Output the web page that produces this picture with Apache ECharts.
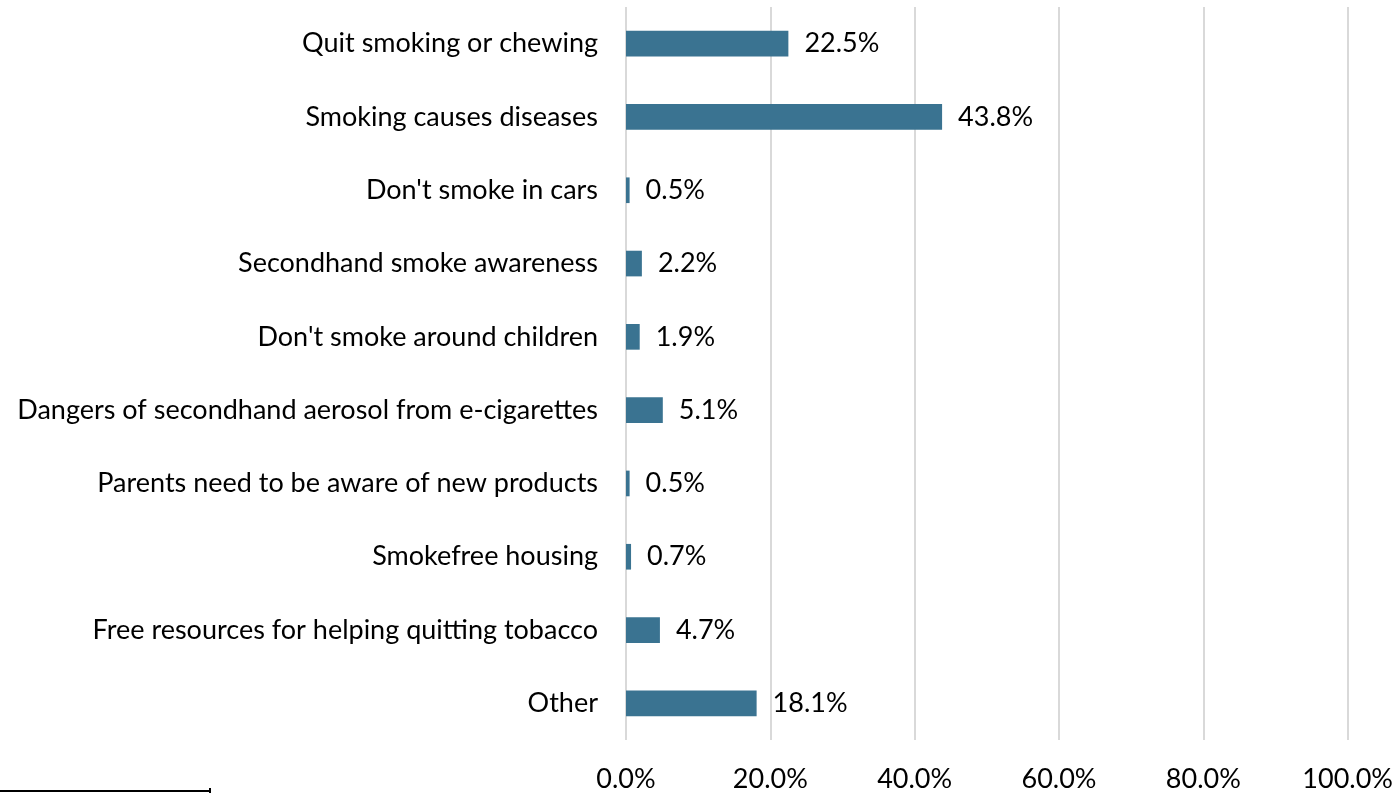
<!DOCTYPE html>
<html>
<head>
<meta charset="utf-8">
<script src="https://cdn.jsdelivr.net/npm/echarts@6/dist/echarts.min.js"></script>
<style>html,body{margin:0;padding:0;background:#fff;}#c{width:1396px;height:793px;}</style>
</head>
<body>
<div id="c"></div>
<script>
const categories = [
  "Quit smoking or chewing",
  "Smoking causes diseases",
  "Don't smoke in cars",
  "Secondhand smoke awareness",
  "Don't smoke around children",
  "Dangers of secondhand aerosol from e-cigarettes",
  "Parents need to be aware of new products",
  "Smokefree housing",
  "Free resources for helping quitting tobacco",
  "Other"
];
const values = [22.5, 43.8, 0.5, 2.2, 1.9, 5.1, 0.5, 0.7, 4.7, 18.1];
const xTicks = [0, 20, 40, 60, 80, 100];

const chart = echarts.init(document.getElementById('c'), null, {renderer: 'canvas'});
const font = 'Lato, "Open Sans", sans-serif';
chart.setOption({
  animation: false,
  textStyle: {fontFamily: font},
  grid: {left: 626, right: 48, top: 7, bottom: 50, containLabel: false},
  xAxis: {
    type: 'value', min: xTicks[0], max: xTicks[xTicks.length - 1], interval: 20,
    axisLine: {show: false}, axisTick: {show: false},
    splitLine: {show: true, lineStyle: {color: '#D9D9D9', width: 2}},
    axisLabel: {formatter: v => v.toFixed(1) + '%', fontSize: 27, color: '#000', margin: 26, fontFamily: font}
  },
  yAxis: {
    type: 'category', data: categories, inverse: true,
    axisLine: {show: false}, axisTick: {show: false},
    axisLabel: {fontSize: 27, color: '#000', margin: 28, fontFamily: font}
  },
  series: [{
    type: 'bar', data: values, barWidth: '35%',
    itemStyle: {color: '#3A7391'},
    label: {show: true, position: 'right', distance: 16, fontSize: 27, color: '#000',
      fontFamily: font, formatter: p => p.value.toFixed(1) + '%'}
  }],
  graphic: [
    {type: 'line', shape: {x1: 0, y1: 791, x2: 210, y2: 791}, style: {stroke: '#000', lineWidth: 2}},
    {type: 'line', shape: {x1: 210, y1: 788, x2: 210, y2: 793}, style: {stroke: '#000', lineWidth: 2}}
  ]
});
</script>
</body>
</html>
